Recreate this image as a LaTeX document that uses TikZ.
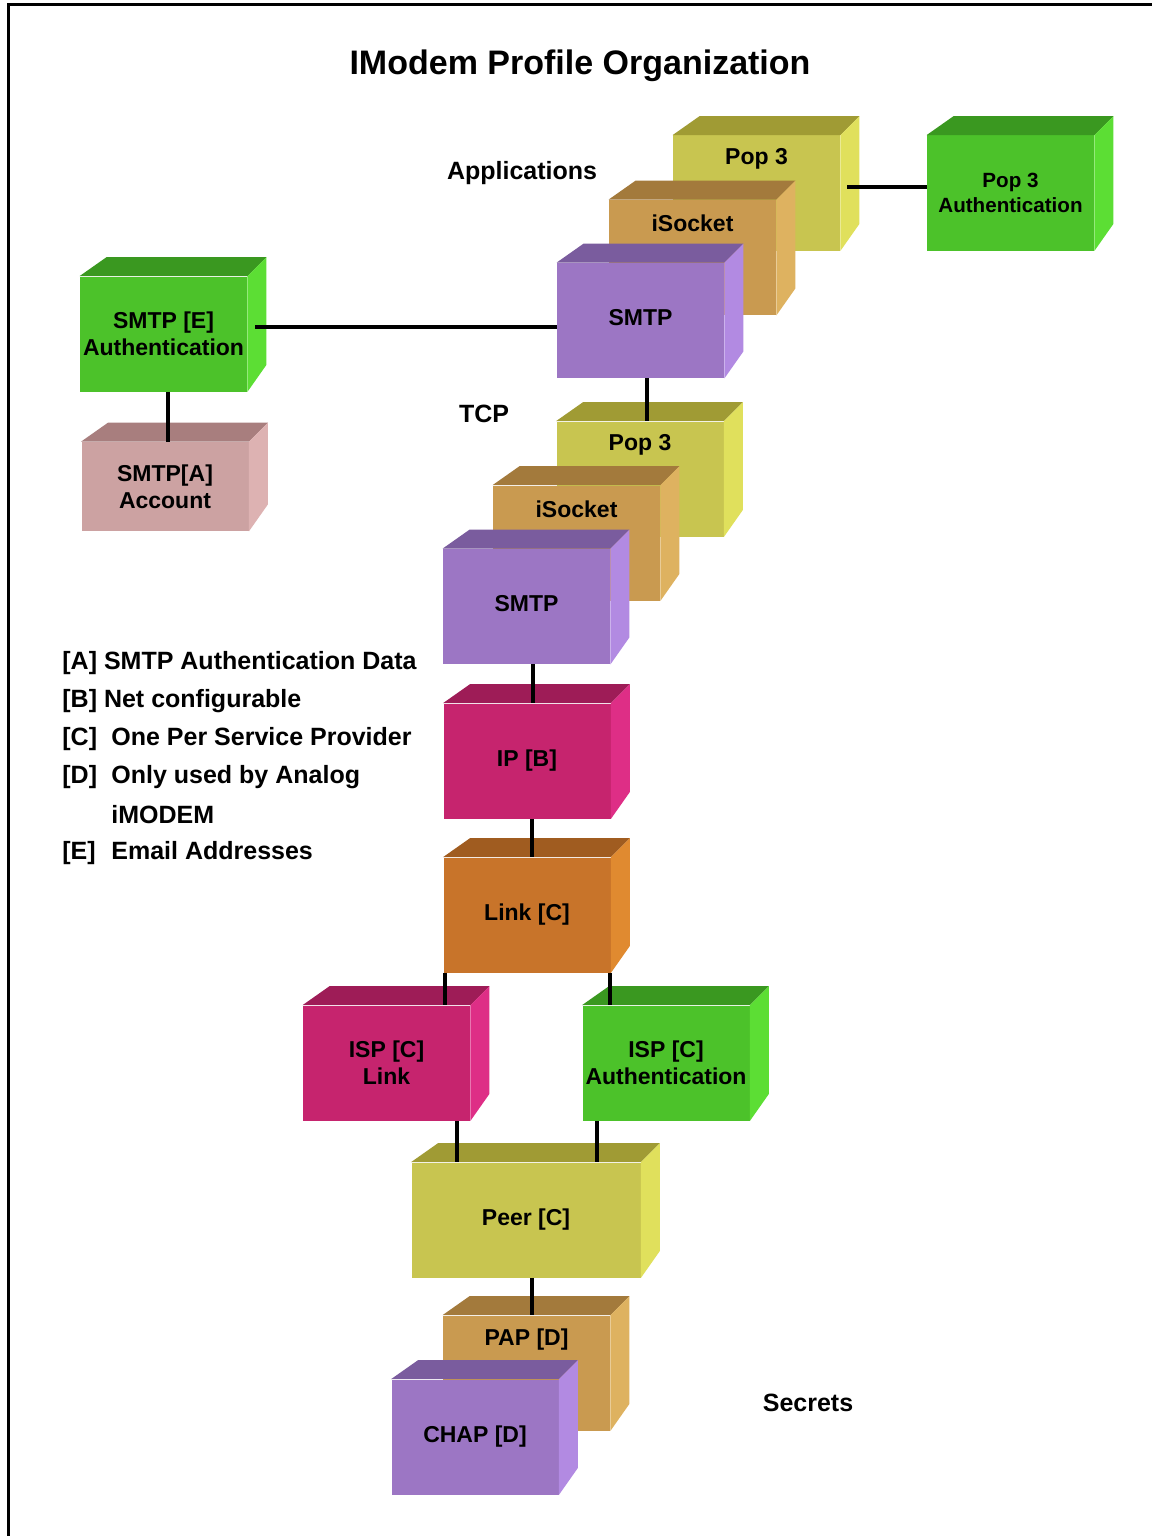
\documentclass[tikz,border=0pt]{standalone}
\usepackage{fontspec}
\setmainfont{Liberation Sans}
\usepackage{tikz}

\definecolor{olivefront}{RGB}{200,197,80}
\definecolor{olivetop}{RGB}{160,155,52}
\definecolor{oliveside}{RGB}{224,224,92}
\definecolor{tanfront}{RGB}{201,154,80}
\definecolor{tantop}{RGB}{163,122,60}
\definecolor{tanside}{RGB}{222,178,96}
\definecolor{lilacfront}{RGB}{156,118,196}
\definecolor{lilactop}{RGB}{122,92,158}
\definecolor{lilacside}{RGB}{178,138,226}
\definecolor{limefront}{RGB}{76,194,42}
\definecolor{limetop}{RGB}{58,152,32}
\definecolor{limeside}{RGB}{92,222,52}
\definecolor{rosefront}{RGB}{204,162,162}
\definecolor{rosetop}{RGB}{168,126,126}
\definecolor{roseside}{RGB}{221,178,178}
\definecolor{magentafront}{RGB}{198,36,110}
\definecolor{magentatop}{RGB}{158,28,87}
\definecolor{magentaside}{RGB}{222,46,134}
\definecolor{orangefront}{RGB}{200,116,42}
\definecolor{orangetop}{RGB}{160,92,32}
\definecolor{orangeside}{RGB}{224,138,48}

\newcommand{\boxfont}{\bfseries\fontsize{11.5}{13.5}\selectfont}
\newcommand{\notefont}{\bfseries\fontsize{12.5}{15}\selectfont}

\tikzstyle{cube} = [
  rectangle,
  inner sep=0pt,
  minimum width=83.5pt,
  minimum height=57.5pt,
  align=center,
  font=\boxfont,
]
\tikzstyle{cubelabel} = [
  anchor=center,
  yshift=-12pt,
  font=\boxfont,
]
\tikzstyle{note} = [
  anchor=west,
  inner sep=0pt,
  font=\notefont,
]
\tikzstyle{link} = [
  line width=2pt,
]
\tikzset{toptext/.style={label={[cubelabel]north:#1}}}

% top and right faces of a box node
\newcommand{\cubefaces}[2]{%
  \fill[#2top] (#1.north west) -- ++(27,-19)
    -- ([shift={(19,-19)}]#1.north east) -- (#1.north east) -- cycle;
  \fill[#2side] (#1.north east) -- ([shift={(19,-19)}]#1.north east)
    -- ([shift={(19,-27)}]#1.south east) -- (#1.south east) -- cycle;
}

\begin{document}
\begin{tikzpicture}[
    x=0.5pt,
    y=-0.5pt,
  ]
  \useasboundingbox[fill=white] (0,0) rectangle (1151,1536);
  \draw[line width=1.5pt] (8,1540) -- (8,5) -- (1160,5);

  \node[font=\bfseries\fontsize{17}{20}\selectfont]
  (title) at (580,66) {IModem Profile Organization};
  \node[font=\notefont] (apps) at (522,173) {Applications};
  \node[font=\notefont] (tcp) at (484,414) {TCP};
  \node[font=\notefont] (secrets) at (808,1403) {Secrets};

  % application stack
  \node[cube, fill=olivefront, toptext={Pop 3}]
  (pop3app) at (756.5,193) {};
  \cubefaces{pop3app}{olive}
  \node[cube, fill=tanfront, toptext={iSocket}]
  (isockapp) at (692.5,257.5) {};
  \cubefaces{isockapp}{tan}
  \node[cube, fill=lilacfront]
  (smtpapp) at (640.5,320.5) {\raisebox{3.5pt}{SMTP}};
  \cubefaces{smtpapp}{lilac}

  \node[cube, fill=limefront,
    font=\bfseries\fontsize{10.3}{12.5}\selectfont]
  (pop3auth) at (1010.5,193) {Pop 3\\Authentication};
  \cubefaces{pop3auth}{lime}

  \node[cube, fill=limefront]
  (smtpauth) at (163.5,334) {SMTP [E]\\Authentication};
  \cubefaces{smtpauth}{lime}
  \node[cube, fill=rosefront, minimum height=44.5pt]
  (account) at (165,486.5) {SMTP[A]\\Account};
  \cubefaces{account}{rose}

  % tcp stack
  \node[cube, fill=olivefront, toptext={Pop 3}]
  (pop3tcp) at (640,479) {};
  \cubefaces{pop3tcp}{olive}
  \node[cube, fill=tanfront, toptext={iSocket}]
  (isocktcp) at (576.5,543) {};
  \cubefaces{isocktcp}{tan}
  \node[cube, fill=lilacfront]
  (smtptcp) at (526.5,606.5) {\raisebox{3.5pt}{SMTP}};
  \cubefaces{smtptcp}{lilac}

  \node[cube, fill=magentafront]
  (ip) at (527,761) {\raisebox{-2pt}{IP [B]}};
  \cubefaces{ip}{magenta}
  \node[cube, fill=orangefront]
  (linkc) at (527,915) {Link [C]};
  \cubefaces{linkc}{orange}

  \node[cube, fill=magentafront]
  (isplink) at (386.5,1063) {ISP [C]\\Link};
  \cubefaces{isplink}{magenta}
  \node[cube, fill=limefront]
  (ispauth) at (666,1063) {ISP [C]\\Authentication};
  \cubefaces{ispauth}{lime}

  \node[cube, fill=olivefront, minimum width=114.5pt]
  (peer) at (526,1220) {Peer [C]};
  \cubefaces{peer}{olive}

  % secrets
  \node[cube, fill=tanfront, toptext={PAP [D]}]
  (pap) at (526.5,1373) {};
  \cubefaces{pap}{tan}
  \node[cube, fill=lilacfront]
  (chap) at (475,1437) {\raisebox{3pt}{CHAP [D]}};
  \cubefaces{chap}{lilac}

  % legend
  \node[note] (notea) at (62,663) {[A] SMTP Authentication Data};
  \node[note] (noteb) at (62,701) {[B] Net configurable};
  \node[note] (notec) at (62,739) {\makebox[24.5pt][l]{[C]}One Per Service Provider};
  \node[note] (noted) at (62,777) {\makebox[24.5pt][l]{[D]}Only used by Analog};
  \node[note] (notedd) at (111,815) {iMODEM};
  \node[note] (notee) at (62,853) {\makebox[24.5pt][l]{[E]}Email Addresses};

  % connectors
  \draw[link] ([shift={(7,-6)}]pop3app.east) -- ([yshift=3pt]pop3auth.west);
  \draw[link] ([shift={(8,-7)}]smtpauth.east) -- ([yshift=3.5pt]smtpauth.east -| smtpapp.west);
  \draw[link] ([xshift=2pt]smtpauth.south) -- ([xshift=2pt]smtpauth.south |- account.north);
  \draw[link] ([xshift=3pt]smtpapp.south) -- ([xshift=3pt]smtpapp.south |- pop3tcp.north);
  \draw[link] ([xshift=3pt]smtptcp.south) -- ([xshift=3pt]smtptcp.south |- ip.north);
  \draw[link] ([xshift=2.5pt]ip.south) -- ([xshift=2.5pt]ip.south |- linkc.north);
  \draw[link] ([xshift=1pt]linkc.south west) -- ([xshift=1pt]linkc.south west |- isplink.north);
  \draw[link] ([xshift=-0.5pt]linkc.south east) -- ([xshift=-0.5pt]linkc.south east |- ispauth.north);
  \draw[link] ([xshift=35pt]isplink.south) -- ([xshift=35pt]isplink.south |- peer.north);
  \draw[link] ([xshift=-34.5pt]ispauth.south) -- ([xshift=-34.5pt]ispauth.south |- peer.north);
  \draw[link] ([xshift=3pt]peer.south) -- ([xshift=3pt]peer.south |- pap.north);
\end{tikzpicture}
\end{document}
